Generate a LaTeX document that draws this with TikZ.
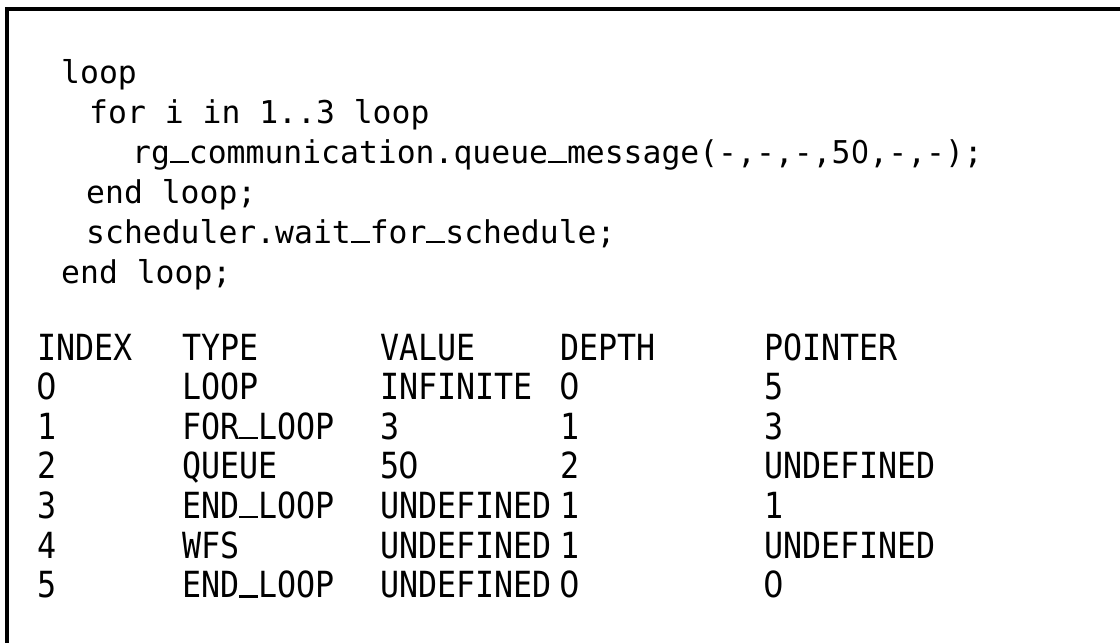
\documentclass[tikz,border=0pt]{standalone}
\usepackage{fontspec}
\newfontfamily\codefont{DejaVu Sans Mono}
\newfontfamily\tablefont[FakeStretch=0.88]{DejaVu Sans Mono}
\newfontfamily\plainfont[FakeStretch=0.9]{DejaVu Sans}
% underscore drawn on the baseline, one character cell wide
\newcommand\usc{\sbox0{0}\rule{\wd0}{0.07em}}
% plain (undotted) zero in a monospace cell
\newcommand\zr{\sbox0{0}\makebox[\wd0][c]{\plainfont 0}}
\begin{document}
\begin{tikzpicture}[x=1pt,y=-1pt,
  code/.style={anchor=base west, inner sep=0pt,
    font=\codefont\fontsize{31.4}{40}\selectfont},
  cell/.style={anchor=base west, inner sep=0pt,
    font=\tablefont\fontsize{36}{40}\selectfont},
  frame/.style={line width=3.5pt, line cap=rect}]
\useasboundingbox (0,0) rectangle (1120,643);
\clip (0,0) rectangle (1120,643);

% open frame: top and left edges only
\coordinate (ftr) at (1125,9);
\coordinate (ftl) at (7,9);
\coordinate (fbl) at (7,650);
\draw[frame] (ftr) -- (ftl) -- (fbl);

% program text
\node[code] (c1) at (61,83)  {loop};
\node[code] (c2) at (89,123) {for i in 1..3 loop};
\node[code] (c3) at (132,163) {rg\usc communication.queue\usc message(-,-,-,5\zr,-,-);};
\node[code] (c4) at (86,203) {end loop;};
\node[code] (c5) at (86,243) {scheduler.wait\usc for\usc schedule;};
\node[code] (c6) at (61,283) {end loop;};

% table of loop entries
\foreach \a/\b/\c/\d/\e [count=\k from 0] in {
  INDEX/TYPE/VALUE/DEPTH/POINTER,
  \zr/LOOP/INFINITE/\zr/5,
  1/FOR\usc LOOP/3/1/3,
  2/QUEUE/5\zr/2/UNDEFINED,
  3/END\usc LOOP/UNDEFINED/1/1,
  4/WFS/UNDEFINED/1/UNDEFINED,
  5/END\usc LOOP/UNDEFINED/\zr/\zr}{
  \pgfmathsetmacro{\yy}{360+39.6*\k}
  \node[cell] (t\k-1) at (37,\yy)  {\a};
  \node[cell] (t\k-2) at (182,\yy) {\b};
  \node[cell] (t\k-3) at (380,\yy) {\c};
  \node[cell] (t\k-4) at (560,\yy) {\d};
  \node[cell] (t\k-5) at (764,\yy) {\e};
}
\end{tikzpicture}
\end{document}
